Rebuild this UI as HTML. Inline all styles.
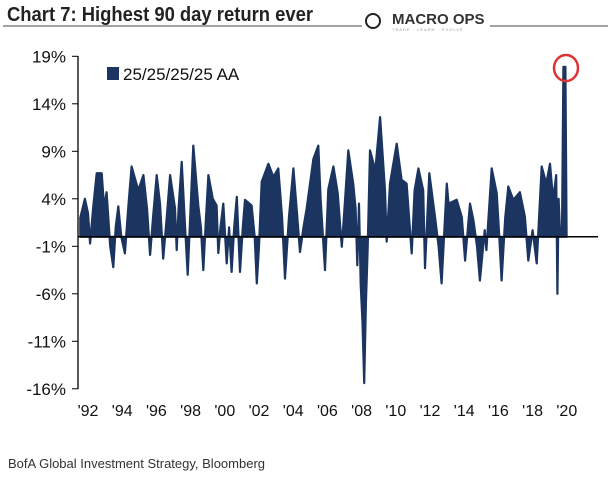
<!DOCTYPE html>
<html><head><meta charset="utf-8"><style>
body{margin:0;background:#fff;width:608px;height:484px;overflow:hidden;font-family:"Liberation Sans",sans-serif}
</style></head><body>
<svg width="608" height="484" xmlns="http://www.w3.org/2000/svg" id="chart">
<text x="7" y="21" font-family="Liberation Sans Narrow, Liberation Sans, sans-serif" font-weight="bold" font-size="20" fill="#222" textLength="306" lengthAdjust="spacingAndGlyphs">Chart 7: Highest 90 day return ever</text>
<line x1="3" y1="26" x2="362" y2="26" stroke="#444" stroke-width="1"/>
<line x1="490" y1="26" x2="608" y2="26" stroke="#444" stroke-width="1"/>
<circle cx="373" cy="21" r="7" fill="none" stroke="#222" stroke-width="2"/>
<text x="392" y="24" font-size="15" font-weight="bold" fill="#333">MACRO OPS</text>
<text x="392" y="31" font-size="4" fill="#999" letter-spacing="1">TRADE · LEARN · EVOLVE</text>
<g id="yaxis"></g>
<g id="xaxis"></g>
<path id="area" fill="#1b3560" stroke="#1b3560" stroke-width="2.2" stroke-linejoin="round"/>
<line id="zero" x1="78" x2="598" stroke="#000" stroke-width="1.5"/>
<line x1="78" y1="56" x2="78" y2="389" stroke="#000" stroke-width="1.3"/>
<rect x="107" y="67" width="12" height="13" fill="#1b3560"/>
<text x="123" y="80" font-size="17" fill="#111">25/25/25/25 AA</text>
<ellipse cx="566" cy="68" rx="12" ry="13" fill="none" stroke="#d33" stroke-width="2.5"/>
<text x="8" y="468" font-size="13" fill="#333">BofA Global Investment Strategy, Bloomberg</text>
</svg>
<script>
const yTicks=[19,14,9,4,-1,-6,-11,-16];
const xTickYears=[1992,1994,1996,1998,2000,2002,2004,2006,2008,2010,2012,2014,2016,2018,2020];
const dates=[1991.55,1991.82,1992.0,1992.12,1992.3,1992.51,1992.8,1992.95,1993.09,1993.3,1993.48,1993.62,1993.77,1993.95,1994.16,1994.35,1994.55,1994.94,1995.24,1995.45,1995.63,1995.8,1996.02,1996.21,1996.4,1996.6,1996.8,1997.09,1997.19,1997.3,1997.48,1997.65,1997.83,1998.0,1998.16,1998.45,1998.6,1998.74,1998.9,1999.04,1999.3,1999.52,1999.62,1999.75,1999.91,2000.11,2000.25,2000.4,2000.55,2000.7,2000.89,2001.05,2001.18,2001.57,2001.75,2001.87,2002.0,2002.16,2002.55,2002.84,2003.13,2003.35,2003.52,2003.75,2004.01,2004.2,2004.4,2004.6,2004.79,2005.18,2005.47,2005.6,2005.86,2006.05,2006.35,2006.6,2006.84,2007.0,2007.22,2007.51,2007.65,2007.75,2007.85,2007.95,2008.05,2008.15,2008.25,2008.35,2008.49,2008.8,2009.08,2009.37,2009.47,2009.66,2010.05,2010.34,2010.63,2010.93,2011.1,2011.32,2011.6,2011.71,2011.96,2012.29,2012.5,2012.68,2012.98,2013.08,2013.56,2013.86,2014.05,2014.34,2014.54,2014.75,2014.92,2015.2,2015.3,2015.61,2015.9,2016.05,2016.19,2016.4,2016.58,2016.87,2017.26,2017.55,2017.75,2018.0,2018.24,2018.53,2018.8,2019.02,2019.2,2019.38,2019.45,2019.52,2019.6,2019.72,2019.8,2019.92,2019.99];
const values=[2,4,2.5,-0.7,3,6.7,6.7,3,4.7,-1,-3.2,1,3.2,0,-1.75,3,7.4,4.9,6.5,3,-1.9,2,6.5,3.5,-2.3,2,6.5,3,-1.4,3,7.9,2,-4.0,3,9.6,3.3,1,-3.5,2,6.5,4,3.3,-1.7,1,3.5,-2.8,1,-3.7,1,4.2,-3.7,1,3.9,3.3,0,-4.9,-1,5.8,7.7,6.3,7.2,2,-4.4,2,7.2,3,-1.6,1,3,8.2,9.6,4,-3.5,5,7.4,4.6,-1.05,3,9.1,5.6,3,-3,3.5,-5,-9,-15.4,-7,-1.5,9.1,7,12.6,4.9,-0.5,5.6,9.8,6,5.6,-1.75,4.9,7.2,4.9,-3.3,6.7,2.1,-1,-4.9,5.6,3.5,3.9,2.1,-2.5,3.5,1.75,-1,-4.6,0.7,-1.4,7.2,4.6,0,-4.6,2,5.3,3.9,4.7,2.1,-2.5,0.7,-2.8,7.4,5.6,7.7,3.9,6.5,-6,4,0.5,0.5,17.9,17.9,0];
const NS="http://www.w3.org/2000/svg";
function yScale(v){return 236.8-(v)*9.5;}
function xScale(yr){return 88+(yr-1992)*17.1;}
const ya=document.getElementById('yaxis'),xa=document.getElementById('xaxis');
yTicks.forEach(t=>{
 const tx=document.createElementNS(NS,'text');
 
 
 tx.setAttribute('x',66);tx.setAttribute('y',yScale(t)+6);
 tx.setAttribute('text-anchor','end');tx.setAttribute('font-size','17');tx.setAttribute('fill','#111');
 tx.textContent=t+'%';ya.appendChild(tx);
 const l=document.createElementNS(NS,'line');
 
 
 l.setAttribute('x1',72);l.setAttribute('x2',78);l.setAttribute('y1',yScale(t));l.setAttribute('y2',yScale(t));
 l.setAttribute('stroke','#000');ya.appendChild(l);
});
xTickYears.forEach(y=>{
 const tx=document.createElementNS(NS,'text');
 
 
 tx.setAttribute('x',xScale(y));tx.setAttribute('y',416);
 tx.setAttribute('text-anchor','middle');tx.setAttribute('font-size','16');tx.setAttribute('fill','#111');
 tx.textContent="'"+String(y).slice(2);xa.appendChild(tx);
});
let d='M'+xScale(dates[0])+','+yScale(0);
dates.forEach((t,i)=>{d+=' L'+xScale(t).toFixed(1)+','+yScale(values[i]).toFixed(1);});
d+=' L'+xScale(dates[dates.length-1])+','+yScale(0)+' Z';
document.getElementById('area').setAttribute('d',d);
const z=document.getElementById('zero');z.setAttribute('y1',yScale(0));z.setAttribute('y2',yScale(0));
</script>
</body></html>
